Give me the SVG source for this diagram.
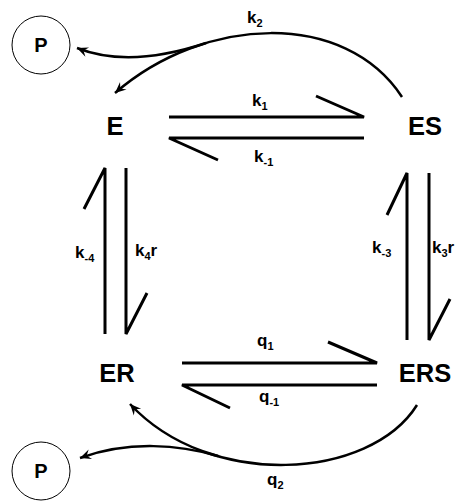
<svg xmlns="http://www.w3.org/2000/svg" width="459" height="502" viewBox="0 0 459 502">
<defs>
<style>
.node{font-family:"Liberation Sans",Arial,sans-serif;font-weight:bold;font-size:25.5px;fill:#000}
.p{font-family:"Liberation Sans",Arial,sans-serif;font-weight:bold;font-size:20px;fill:#000}
.lbl{font-family:"Liberation Sans",Arial,sans-serif;font-weight:bold;font-size:17px;fill:#000}
.sub{font-size:11px}
.rx{stroke:#000;stroke-width:3;fill:none;stroke-linecap:butt}
.cv{stroke:#000;stroke-width:2.5;fill:none}
.circ{stroke:#000;stroke-width:1;fill:#fff}
</style>
<marker id="ah" markerUnits="userSpaceOnUse" viewBox="-12 -6 14 12" refX="0" refY="0" markerWidth="14" markerHeight="12" orient="auto">
<path d="M0,0 L-11,-5 L-7,0 L-11,5 Z" fill="#000"/>
</marker>
</defs>
<rect width="459" height="502" fill="#fff"/>
<g id="P1"><circle class="circ" cx="41" cy="45" r="29"/><text class="p" x="41" y="52" text-anchor="middle">P</text></g>
<g id="P2"><circle class="circ" cx="41" cy="471" r="29"/><text class="p" x="41" y="478" text-anchor="middle">P</text></g>
<g id="E"><text class="node" x="115" y="135" text-anchor="middle">E</text></g>
<g id="ES"><text class="node" x="425" y="135" text-anchor="middle">ES</text></g>
<g id="ER"><text class="node" x="117" y="382" text-anchor="middle">ER</text></g>
<g id="ERS"><text class="node" x="425" y="382" text-anchor="middle">ERS</text></g>
<g id="connectors">
<path class="rx" d="M169,117 H364 L316,96"/>
<path class="rx" d="M364,138 H169 L218,160"/>
<path class="rx" d="M182,363 H377 L328,342"/>
<path class="rx" d="M377,385 H182 L230,408"/>
<path class="rx" d="M105,334 V168 L84,209"/>
<path class="rx" d="M126,168 V334 L147,293"/>
<path class="rx" d="M407,340 V173 L387,215"/>
<path class="rx" d="M429,173 V340 L450,299"/>
<path class="cv" d="M402,97 C345,10 205,15 115,93" marker-end="url(#ah)"/>
<path class="cv" d="M206,43 C170,55 120,65 77,48" marker-end="url(#ah)"/>
<path class="cv" d="M417,405 C370,480 210,490 130,404" marker-end="url(#ah)"/>
<path class="cv" d="M218,456 C180,445 130,440 80,458" marker-end="url(#ah)"/>
</g>
<g id="labels">
<text class="lbl" x="247" y="23">k<tspan class="sub" dy="4">2</tspan></text>
<text class="lbl" x="252" y="106">k<tspan class="sub" dy="4">1</tspan></text>
<text class="lbl" x="254" y="162">k<tspan class="sub" dy="4">-1</tspan></text>
<text class="lbl" x="75" y="258">k<tspan class="sub" dy="4">-4</tspan></text>
<text class="lbl" x="135" y="256">k<tspan class="sub" dy="4">4</tspan><tspan dy="-4">r</tspan></text>
<text class="lbl" x="372" y="253">k<tspan class="sub" dy="4">-3</tspan></text>
<text class="lbl" x="432" y="253">k<tspan class="sub" dy="4">3</tspan><tspan dy="-4">r</tspan></text>
<text class="lbl" x="257" y="346">q<tspan class="sub" dy="4">1</tspan></text>
<text class="lbl" x="259" y="402">q<tspan class="sub" dy="4">-1</tspan></text>
<text class="lbl" x="267" y="485">q<tspan class="sub" dy="4">2</tspan></text>
</g>
</svg>
